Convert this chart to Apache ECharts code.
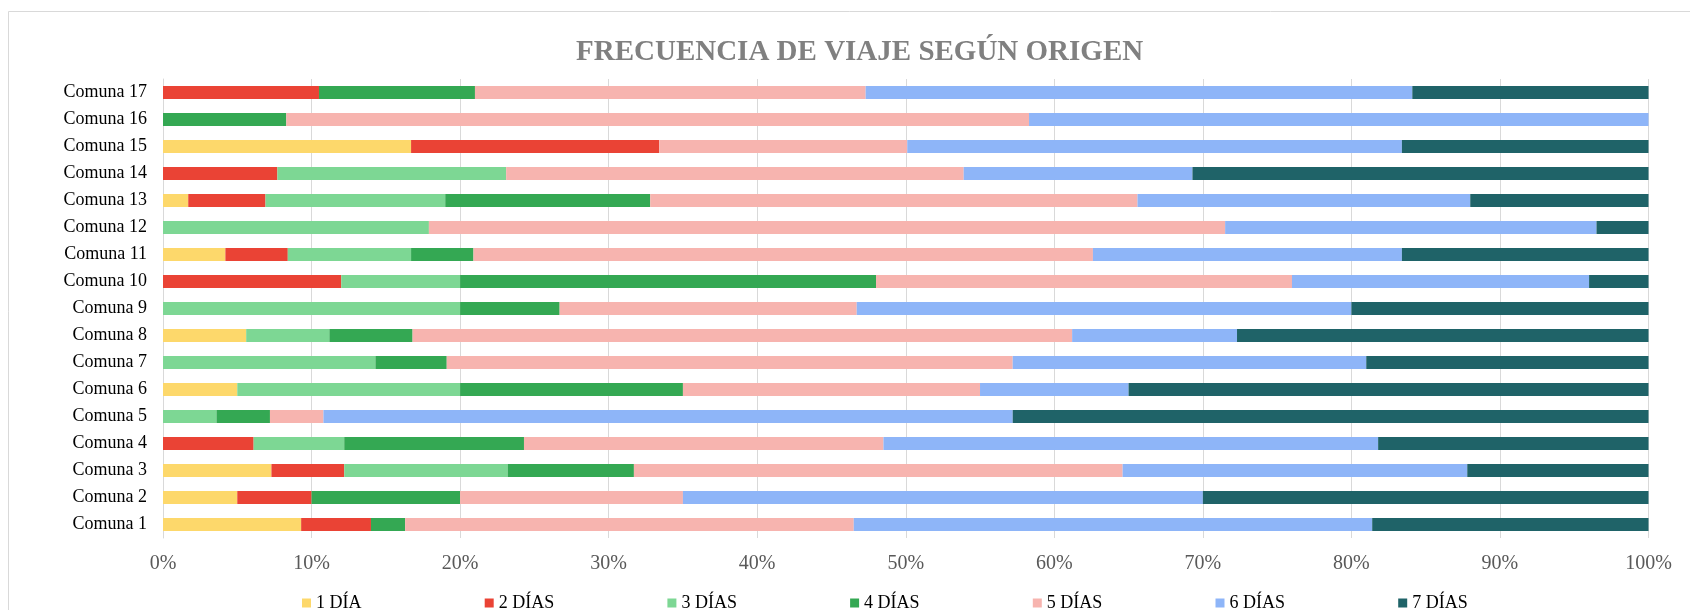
<!DOCTYPE html>
<html>
<head>
<meta charset="utf-8">
<script src="https://cdn.jsdelivr.net/npm/echarts@6/dist/echarts.min.js"></script>
<style>
  html, body { margin: 0; padding: 0; background: #ffffff; }
  #chart { width: 1690px; height: 610px; }
</style>
</head>
<body>
<div id="chart"></div>
<script>
// Frecuencia de viaje según origen (porcentaje por comuna)
var comunas = ['Comuna 1', 'Comuna 2', 'Comuna 3', 'Comuna 4', 'Comuna 5', 'Comuna 6',
    'Comuna 7', 'Comuna 8', 'Comuna 9', 'Comuna 10', 'Comuna 11', 'Comuna 12',
    'Comuna 13', 'Comuna 14', 'Comuna 15', 'Comuna 16', 'Comuna 17'];

var seriesNames = ['1 DÍA', '2 DÍAS', '3 DÍAS', '4 DÍAS', '5 DÍAS', '6 DÍAS', '7 DÍAS'];

var dia1  = [9.3, 5, 7.3, 0, 0, 5, 0, 5.6, 0, 0, 4.2, 0, 1.7, 0, 16.7, 0, 0];
var dias2 = [4.7, 5, 4.9, 6.1, 0, 0, 0, 0, 0, 12, 4.2, 0, 5.2, 7.7, 16.7, 0, 10.5];
var dias3 = [0, 0, 11.0, 6.1, 3.6, 15, 14.3, 5.6, 20, 8, 8.3, 17.9, 12.1, 15.4, 0, 0, 0];
var dias4 = [2.3, 10, 8.5, 12.1, 3.6, 15, 4.8, 5.6, 6.7, 28, 4.2, 0, 13.8, 0, 0, 8.3, 10.5];
var dias5 = [30.2, 15, 32.9, 24.2, 3.6, 20, 38.1, 44.4, 20, 28, 41.7, 53.6, 32.8, 30.8, 16.7, 50, 26.3];
var dias6 = [34.9, 35, 23.2, 33.3, 46.4, 10, 23.8, 11.1, 33.3, 20, 20.8, 25, 22.4, 15.4, 33.3, 41.7, 36.8];
var dias7 = [18.6, 30, 12.2, 18.2, 42.8, 35, 19.0, 27.7, 20, 4, 16.6, 3.5, 12.0, 30.7, 16.6, 0, 15.9];

var xTicks = [0, 10, 20, 30, 40, 50, 60, 70, 80, 90, 100];

var colores = ['#FDD86B', '#EA4335', '#7DD794', '#34A853', '#F7B4AF', '#8EB5F8', '#1F6368'];

var serif = "'Liberation Serif', 'Times New Roman', serif";

var chart = echarts.init(document.getElementById('chart'));

var allData = [dia1, dias2, dias3, dias4, dias5, dias6, dias7];
var series = seriesNames.map(function(name, i) {
    return {
        name: name,
        type: 'bar',
        stack: 'total',
        barWidth: 13,
        data: allData[i],
        itemStyle: { color: colores[i] },
        animation: false
    };
});

// leyenda con espaciado fijo, como en Excel
var legends = seriesNames.map(function(name, i) {
    return {
        data: [name],
        left: 297 + i * 182.7,
        top: 589,
        itemWidth: 9,
        itemHeight: 9,
        icon: 'rect',
        textStyle: {
            fontFamily: serif,
            fontSize: 18,
            color: '#000000'
        }
    };
});

var option = {
    backgroundColor: '#ffffff',
    color: colores,
    title: {
        text: 'FRECUENCIA DE VIAJE SEGÚN ORIGEN',
        left: 571,
        top: 33,
        textStyle: {
            fontFamily: serif,
            fontWeight: 'bold',
            fontSize: 29,
            color: '#808080'
        }
    },
    graphic: [{
        type: 'rect',
        shape: { x: 8.5, y: 11.5, width: 2000, height: 1000 },
        style: { fill: 'none', stroke: '#d9d9d9', lineWidth: 1 },
        silent: true
    }],
    grid: {
        left: 163,
        right: 41.5,
        top: 79,
        bottom: 72
    },
    legend: legends,
    xAxis: {
        type: 'value',
        min: xTicks[0],
        max: xTicks[xTicks.length - 1],
        interval: 10,
        axisLine: { show: false },
        axisTick: { show: false },
        splitLine: { lineStyle: { color: '#d9d9d9', width: 1 } },
        axisLabel: {
            formatter: '{value}%',
            fontFamily: serif,
            fontSize: 20,
            color: '#595959',
            margin: 16
        }
    },
    yAxis: {
        type: 'category',
        data: comunas,
        axisLine: { show: true, lineStyle: { color: '#d9d9d9' } },
        axisTick: { show: false },
        axisLabel: {
            fontFamily: serif,
            fontSize: 18,
            color: '#000000',
            margin: 16
        }
    },
    series: series
};

chart.setOption(option);
</script>
</body>
</html>
